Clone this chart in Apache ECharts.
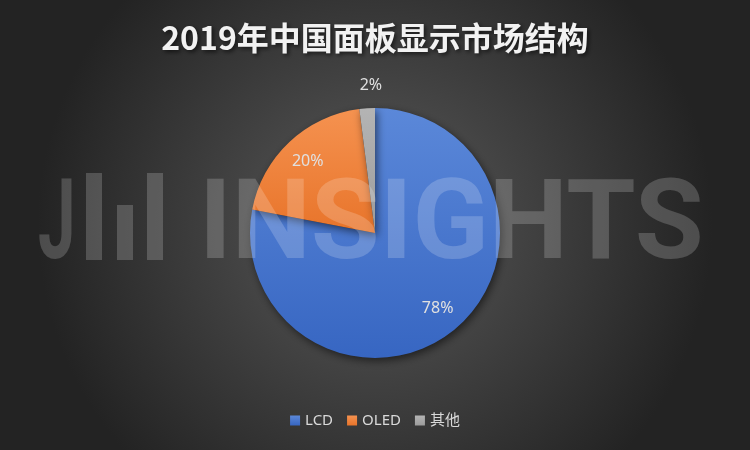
<!DOCTYPE html>
<html>
<head>
<meta charset="utf-8">
<script src="https://cdn.jsdelivr.net/npm/echarts@6/dist/echarts.min.js"></script>
<style>
  html, body { margin: 0; padding: 0; }
  #main { width: 750px; height: 450px; }
</style>
</head>
<body>
<div id="main"></div>
<script>
const categories = ['LCD', 'OLED', '其他']
const shares = [78, 20, 2]
const topColors = ['#5b88d9', '#f59250', '#b4b4b4']
const bottomColors = ['#3766c2', '#e8742a', '#9c9c9c']

const cx = 375
const cy = 233
const wmFill = 'rgba(255,255,255,0.19)'

const chart = echarts.init(document.getElementById('main'))

const option = {
    backgroundColor: {
        type: 'radial', x: 0.5, y: 0.5, r: 0.75,
        colorStops: [
            { offset: 0, color: '#5a5a5a' },
            { offset: 1, color: '#232323' }
        ]
    },
    title: {
        text: '2019年中国面板显示市场结构',
        left: 'center',
        top: 17,
        textStyle: {
            color: '#f2f2f2',
            fontSize: 32,
            fontWeight: 'bold',
            fontFamily: '"Noto Sans CJK SC", sans-serif',
            textShadowColor: 'rgba(0,0,0,0.6)',
            textShadowBlur: 4,
            textShadowOffsetX: 2,
            textShadowOffsetY: 2
        }
    },
    legend: {
        data: categories,
        bottom: 17,
        left: 'center',
        icon: 'rect',
        itemWidth: 10,
        itemHeight: 10,
        itemGap: 14,
        textStyle: {
            color: '#d9d9d9',
            fontSize: 15,
            fontFamily: '"Noto Sans", "Noto Sans CJK SC", sans-serif'
        }
    },
    series: [
        {
            type: 'pie',
            center: [cx, cy],
            radius: 125,
            startAngle: 90,
            clockwise: true,
            silent: true,
            data: categories.map((name, i) => ({
                name,
                value: shares[i],
                itemStyle: {
                    color: {
                        type: 'linear', x: 0, y: 0, x2: 0, y2: 1,
                        colorStops: [
                            { offset: 0, color: topColors[i] },
                            { offset: 1, color: bottomColors[i] }
                        ]
                    }
                }
            })),
            itemStyle: {
                shadowBlur: 8,
                shadowColor: 'rgba(0,0,0,0.55)',
                shadowOffsetX: 2,
                shadowOffsetY: 3
            },
            label: {
                show: true,
                position: 'inside',
                formatter: '{c}%',
                color: '#e0e0e0',
                fontSize: 16,
                fontFamily: '"Noto Sans", sans-serif'
            },
            labelLine: { show: false },
            labelLayout: params => {
                const r = params.labelRect
                const lx = r.x + r.width / 2
                const ly = r.y + r.height / 2
                if (params.dataIndex === 2) {
                    return { dx: 0, dy: (ly - cy) * 1.26 }
                }
                return { dx: (lx - cx) * 0.5, dy: (ly - cy) * 0.5 }
            }
        }
    ],
    graphic: [
        {
            type: 'text', x: 38, y: 230, scaleX: 0.6, z: 100,
            style: { text: 'J', x: 0, y: 0, fill: wmFill, font: 'bold 112px Roboto', verticalAlign: 'middle' }
        },
        { type: 'rect', z: 100, shape: { x: 86, y: 173, width: 16, height: 87 }, style: { fill: wmFill } },
        { type: 'rect', z: 100, shape: { x: 117, y: 205, width: 16, height: 55 }, style: { fill: wmFill } },
        { type: 'rect', z: 100, shape: { x: 147, y: 173, width: 16, height: 87 }, style: { fill: wmFill } },
        {
            type: 'text', x: 199, y: 230, scaleX: 1.0, z: 100,
            style: { text: 'INSIGHTS', x: 0, y: 0, fill: wmFill, font: 'bold 112px Roboto', verticalAlign: 'middle' }
        }
    ]
}

chart.setOption(option)
</script>
</body>
</html>
